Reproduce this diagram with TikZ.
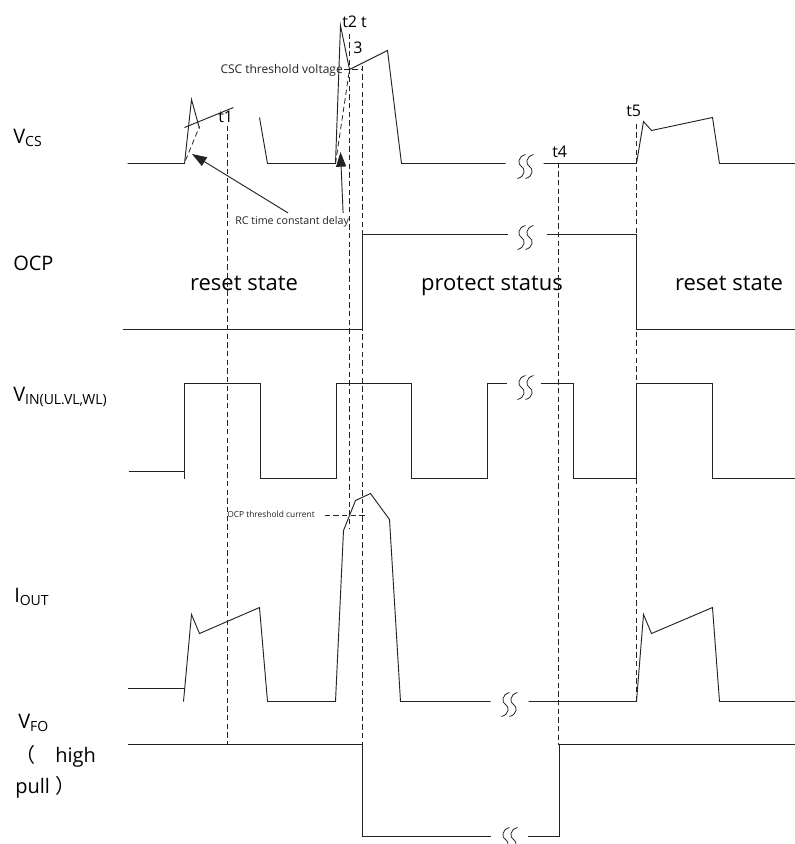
\documentclass[tikz,border=0pt]{standalone}
\usepackage{fontspec}
\setmainfont{Open Sans}
\newfontfamily\cjk{Noto Sans CJK SC}
\usetikzlibrary{arrows.meta}
\definecolor{ink}{RGB}{35,35,35}

\begin{document}
\begin{tikzpicture}[x=0.75pt,y=-0.75pt,
    wave/.style={ink,line width=0.7pt},
    guide/.style={ink,line width=0.6pt,dash pattern=on 4pt off 2.5pt},
    sig/.style={font=\fontsize{15}{17}\selectfont,anchor=base west,inner sep=0pt},
    tlab/.style={font=\fontsize{12}{14}\selectfont,anchor=base west,inner sep=0pt},
    state/.style={font=\fontsize{16.5}{18}\selectfont,anchor=base,inner sep=0pt},
    note/.style={inner sep=0pt,text=ink},
    brk/.pic={\foreach \d in {-4,4}
      \draw[ink,line width=0.6pt] (\d+4,-12) .. controls (\d-4,-10) and (\d-4,-2) .. (\d,0)
        .. controls (\d+4,2) and (\d+4,10) .. (\d-4,12);}]
  \useasboundingbox (0,0) rectangle (795,844);
  % signal names
  \node[sig] (vcs) at (13,143) {V\textsubscript{CS}};
  \node[sig] (ocp) at (13,270) {OCP};
  \node[sig] (vin) at (13,401) {V\textsubscript{IN(UL.VL,WL)}};
  \node[sig] (iout) at (14,602) {I\textsubscript{OUT}};
  \node[sig] (vfo) at (18,728) {V\textsubscript{FO}};
  \node[sig] (high) at (15,762) {{\cjk （}\hspace{15pt}high};
  \node[sig] (pull) at (15,793) {pull\ {\cjk ）}};
  % states
  \node[state] (rs1) at (244,290) {reset state};
  \node[state] (prot) at (492,290) {protect status};
  \node[state] (rs2) at (729,290) {reset state};
  % time marks
  \foreach \t/\x/\y in {t1/218/122,t2 t/342/27,3/353/53,t4/552/157,t5/626/116}
    \node[tlab] at (\x,\y) {\t};
  \begin{scope}[shift={(0.5,0.5)}]
  \foreach \x/\a/\b in {227/125/744,349/33/528,362/65/744,558/162/744,636/123/701}
    \draw[guide] (\x,\a) -- (\x,\b);
  % V_CS
  \draw[wave] (127,163) -- (184,163) -- (191,99) -- (199,128);
  \draw[wave] (184,127) -- (233,107);
  \draw[guide] (185,160) -- (199,126);
  \draw[wave] (259,117) -- (267,163) -- (335,163) -- (340,25) -- (349,69) -- (387,50)
    -- (401,163) -- (505,163);
  \draw[guide] (335,163) -- (349,69);
  \draw[wave] (543,163) -- (636,163) -- (643,121) -- (651,130) -- (712,117) -- (719,163) -- (795,163);
  \path (525,166) pic {brk};
  % OCP
  \draw[wave] (122,329) -- (362,329) -- (362,234) -- (507,234);
  \draw[wave] (546,234) -- (636,234) -- (636,329) -- (795,329);
  \path (525,237) pic {brk};
  % V_IN
  \draw[wave] (128,471) -- (184,471);
  \draw[wave] (184,478) -- (184,383) -- (260,383) -- (260,478) -- (336,478) -- (336,383)
    -- (411,383) -- (411,478) -- (487,478) -- (487,383) -- (506,383);
  \draw[wave] (540,383) -- (573,383) -- (573,478) -- (636,478) -- (636,383) -- (712,383)
    -- (712,478) -- (795,478);
  \path (525,387) pic {brk};
  % I_OUT
  \draw[wave] (127,688) -- (184,688);
  \draw[wave] (183,701) -- (191,614) -- (199,633) -- (259,607) -- (267,701) -- (335,701)
    -- (343,530) -- (355,500) -- (370,493) -- (389,519) -- (400,701) -- (490,701);
  \draw[wave] (528,701) -- (636,701) -- (643,614) -- (651,633) -- (712,607) -- (719,701) -- (795,701);
  \path (509,704) pic {brk};
  \draw[guide] (324,515) -- (367,515);
  % V_FO
  \draw[wave] (127,744) -- (362,744) -- (362,836) -- (490,836);
  \draw[wave] (527,836) -- (559,836) -- (559,744) -- (795,744);
  \path (509,839) pic {brk};
  \end{scope}
  % threshold and delay notes
  \node[note,font=\fontsize{9}{10}\selectfont,anchor=base east] (csc) at (343,73) {CSC threshold voltage};
  \draw[guide] (csc.base east) ++(0.5,-3.5) -- (362.5,69.5);
  \node[note,font=\fontsize{6.3}{7}\selectfont,anchor=base west] (ocpth) at (227,517) {OCP threshold current};
  \node[note,font=\fontsize{8}{9}\selectfont,anchor=base west] (rc) at (235,224) {RC time constant delay};
  \coordinate (tipA) at (192,154);
  \coordinate (tipB) at (340.5,152);
  \draw[ink,line width=0.7pt,-{Triangle[length=11pt,width=7.5pt]}] ([xshift=-3pt,yshift=2pt]rc.north) -- (tipA);
  \draw[ink,line width=0.7pt,-{Triangle[length=11pt,width=7.5pt]}] ([xshift=-4.6pt,yshift=2pt]rc.north east) -- (tipB);
\end{tikzpicture}
\end{document}
